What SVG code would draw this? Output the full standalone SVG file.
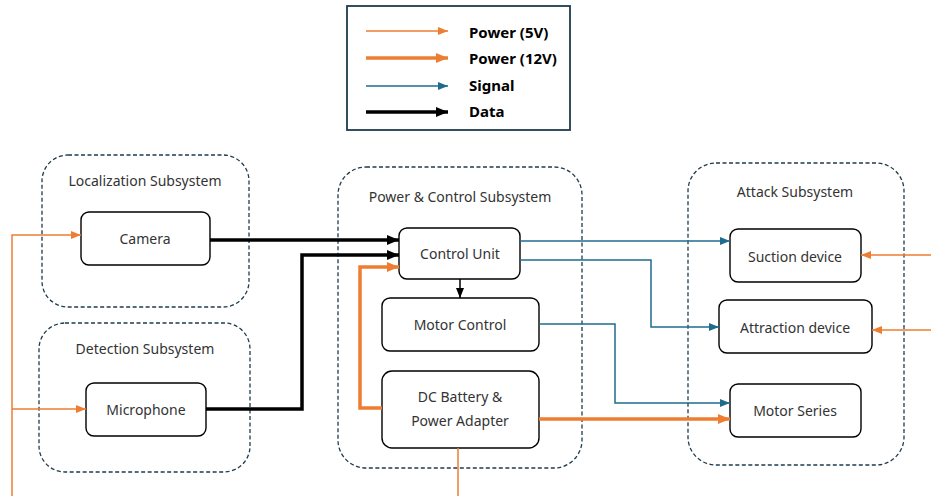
<svg xmlns="http://www.w3.org/2000/svg" width="931" height="496" viewBox="0 0 931 496">
<defs>
<style>
.sub{fill:none;stroke:#1F3B4D;stroke-width:1.3;stroke-dasharray:4 2.5}
.box{fill:#fff;stroke:#000;stroke-width:1.4}
.t{font-family:"Noto Sans","DejaVu Sans",sans-serif;font-size:14px;fill:#333;text-anchor:middle}
.lg{font-family:"Noto Sans","DejaVu Sans",sans-serif;font-size:15px;font-weight:bold;fill:#000}
.p5{fill:none;stroke:#ED7D31;stroke-width:1.5}
.p12{fill:none;stroke:#ED7D31;stroke-width:3.5}
.sg{fill:none;stroke:#1F6B8E;stroke-width:1.5}
.dt{fill:none;stroke:#000;stroke-width:3.5}
</style>
<marker id="aO" viewBox="0 0 10 8" refX="10" refY="4" markerWidth="10" markerHeight="8" markerUnits="userSpaceOnUse" orient="auto"><path d="M0,0L10,4L0,8z" fill="#ED7D31"/></marker>
<marker id="aO2" viewBox="0 0 12 10" refX="12" refY="5" markerWidth="12" markerHeight="10" markerUnits="userSpaceOnUse" orient="auto"><path d="M0,0L12,5L0,10z" fill="#ED7D31"/></marker>
<marker id="aB" viewBox="0 0 10 8" refX="10" refY="4" markerWidth="10" markerHeight="8" markerUnits="userSpaceOnUse" orient="auto"><path d="M0,0L10,4L0,8z" fill="#1F6B8E"/></marker>
<marker id="aK" viewBox="0 0 12 10" refX="12" refY="5" markerWidth="12" markerHeight="10" markerUnits="userSpaceOnUse" orient="auto"><path d="M0,0L12,5L0,10z" fill="#000"/></marker>
<marker id="aKs" viewBox="0 0 10 8" refX="10" refY="4" markerWidth="10" markerHeight="8" markerUnits="userSpaceOnUse" orient="auto"><path d="M0,0L10,4L0,8z" fill="#000"/></marker>
</defs>

<g id="legend">
<rect x="347" y="6" width="223" height="124" fill="#fff" stroke="#1F3B4D" stroke-width="1.8"/>
<line class="p5" x1="366" y1="31" x2="448" y2="31" marker-end="url(#aO)"/>
<line class="p12" x1="366" y1="58" x2="448" y2="58" marker-end="url(#aO2)"/>
<line class="sg" x1="366" y1="86" x2="448" y2="86" marker-end="url(#aB)"/>
<line class="dt" x1="366" y1="112" x2="448" y2="112" marker-end="url(#aK)"/>
<text class="lg" x="469" y="38">Power (5V)</text>
<text class="lg" x="469" y="64">Power (12V)</text>
<text class="lg" x="469" y="91">Signal</text>
<text class="lg" x="469" y="117">Data</text>
</g>

<g id="localization-subsystem">
<rect class="sub" x="42" y="155" width="207" height="152" rx="26"/>
<text class="t" x="145" y="186">Localization Subsystem</text>
</g>
<g id="detection-subsystem">
<rect class="sub" x="39" y="323" width="211" height="149" rx="26"/>
<text class="t" x="145" y="354">Detection Subsystem</text>
</g>
<g id="power-control-subsystem">
<rect class="sub" x="338" y="167" width="244" height="301" rx="28"/>
<text class="t" x="460" y="202">Power &amp; Control Subsystem</text>
</g>
<g id="attack-subsystem">
<rect class="sub" x="688" y="163" width="216" height="302" rx="28"/>
<text class="t" x="795" y="197">Attack Subsystem</text>
</g>

<g id="camera">
<rect class="box" x="81" y="212" width="129" height="53" rx="8"/>
<text class="t" x="145" y="244">Camera</text>
</g>
<g id="microphone">
<rect class="box" x="86" y="383" width="120" height="53" rx="8"/>
<text class="t" x="146" y="415">Microphone</text>
</g>
<g id="control-unit">
<rect class="box" x="399" y="228" width="121" height="51" rx="8"/>
<text class="t" x="460" y="259">Control Unit</text>
</g>
<g id="motor-control">
<rect class="box" x="382" y="298" width="157" height="53" rx="8"/>
<text class="t" x="460" y="330">Motor Control</text>
</g>
<g id="dc-battery">
<rect class="box" x="382" y="371" width="157" height="77" rx="10"/>
<text class="t" x="460" y="402">DC Battery &amp;</text>
<text class="t" x="460" y="426">Power Adapter</text>
</g>
<g id="suction-device">
<rect class="box" x="730" y="229" width="131" height="53" rx="8"/>
<text class="t" x="795" y="262">Suction device</text>
</g>
<g id="attraction-device">
<rect class="box" x="719" y="300" width="153" height="53" rx="8"/>
<text class="t" x="795" y="333">Attraction device</text>
</g>
<g id="motor-series">
<rect class="box" x="730" y="384" width="131" height="53" rx="8"/>
<text class="t" x="795" y="416">Motor Series</text>
</g>

<g id="connectors">
<path class="p5" d="M12,496V235H81" marker-end="url(#aO)"/>
<path class="p5" d="M12,409H86" marker-end="url(#aO)"/>
<path class="dt" d="M210,240H399" marker-end="url(#aK)"/>
<path class="dt" d="M206,409H302V255H399" marker-end="url(#aK)"/>
<path class="p12" d="M382,408H360V267H399" marker-end="url(#aO2)"/>
<path d="M460,279V298" fill="none" stroke="#000" stroke-width="1.5" marker-end="url(#aKs)"/>
<path class="p5" d="M458,448V496"/>
<path class="p12" d="M539,419H730" marker-end="url(#aO2)"/>
<path class="sg" d="M520,241H730" marker-end="url(#aB)"/>
<path class="sg" d="M520,260H651V327H719" marker-end="url(#aB)"/>
<path class="sg" d="M539,324H615V403H730" marker-end="url(#aB)"/>
<path class="p5" d="M931,255H861" marker-end="url(#aO)"/>
<path class="p5" d="M931,330H872" marker-end="url(#aO)"/>
</g>
</svg>
